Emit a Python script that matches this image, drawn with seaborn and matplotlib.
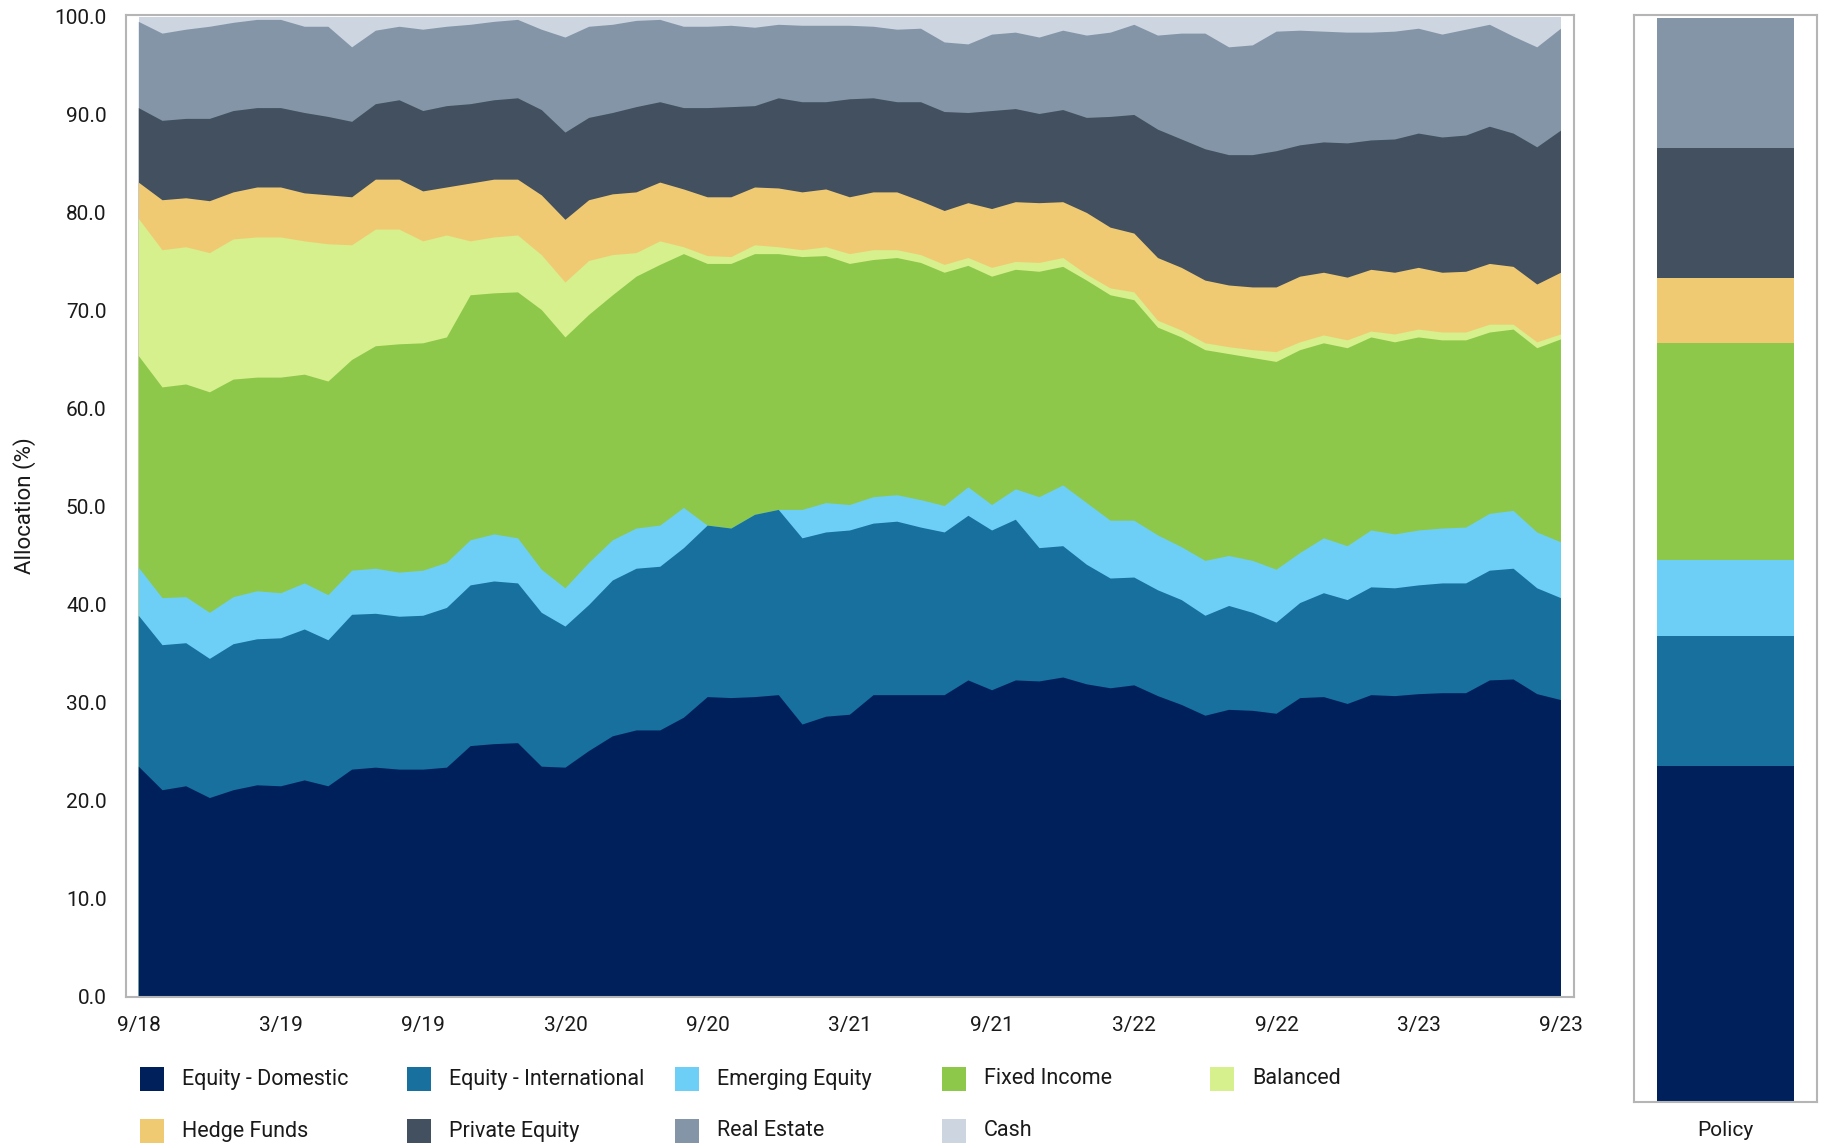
import matplotlib
matplotlib.use("Agg")
import matplotlib.pyplot as plt
from matplotlib.patches import Rectangle
import numpy as np
import pandas as pd
import seaborn as sns

# Monthly asset allocation, 9/18 through 9/23 (percent of portfolio)
equity_domestic = [23.5, 21.1, 21.5, 20.3, 21.1, 21.6, 21.5, 22.1, 21.5, 23.2, 23.4, 23.2, 23.2, 23.4, 25.6, 25.8,
                   25.9, 23.5, 23.4, 25.1, 26.6, 27.2, 27.2, 28.5, 30.6, 30.5, 30.6, 30.8, 27.8, 28.6, 28.8,
                   30.8, 30.8, 30.8, 30.8, 32.3, 31.3, 32.3, 32.2, 32.6, 31.9, 31.5, 31.8, 30.7, 29.8, 28.7,
                   29.3, 29.2, 28.9, 30.5, 30.6, 29.9, 30.8, 30.7, 30.9, 31.0, 31.0, 32.3, 32.4, 30.9, 30.3]
equity_international = [15.4, 14.8, 14.6, 14.2, 14.9, 14.9, 15.1, 15.4, 14.9, 15.8, 15.7, 15.6, 15.7, 16.3, 16.4, 16.6,
                        16.3, 15.7, 14.4, 14.9, 15.9, 16.5, 16.7, 17.3, 17.5, 17.3, 18.6, 18.9, 19.0, 18.8, 18.8,
                        17.5, 17.7, 17.1, 16.6, 16.8, 16.3, 16.4, 13.6, 13.4, 12.2, 11.2, 11.0, 10.8, 10.7, 10.2,
                        10.6, 10.0, 9.3, 9.7, 10.6, 10.6, 11.0, 11.0, 11.1, 11.2, 11.2, 11.2, 11.3, 10.8, 10.4]
emerging_equity = [4.9, 4.8, 4.7, 4.7, 4.8, 4.9, 4.6, 4.7, 4.6, 4.5, 4.6, 4.5, 4.6, 4.6, 4.6, 4.8,
                   4.6, 4.4, 3.9, 4.3, 4.1, 4.1, 4.2, 4.1, 0.0, 0.0, 0.0, 0.0, 2.9, 3.0, 2.6,
                   2.7, 2.7, 2.8, 2.7, 2.9, 2.6, 3.1, 5.2, 6.2, 6.3, 5.9, 5.8, 5.6, 5.4, 5.6,
                   5.1, 5.3, 5.4, 5.1, 5.6, 5.5, 5.8, 5.5, 5.6, 5.6, 5.7, 5.8, 5.9, 5.7, 5.7]
fixed_income = [21.6, 21.5, 21.7, 22.5, 22.2, 21.8, 22.0, 21.3, 21.8, 21.5, 22.7, 23.3, 23.2, 23.0, 25.0, 24.6,
                25.1, 26.5, 25.6, 25.3, 25.0, 25.7, 26.6, 25.9, 26.7, 27.0, 26.6, 26.1, 25.8, 25.2, 24.6,
                24.2, 24.2, 24.2, 23.8, 22.6, 23.3, 22.4, 23.0, 22.3, 22.7, 23.0, 22.5, 21.2, 21.4, 21.5,
                20.6, 20.7, 21.2, 20.7, 19.9, 20.2, 19.7, 19.6, 19.7, 19.2, 19.1, 18.5, 18.5, 18.8, 20.7]
balanced = [14.0, 14.0, 14.0, 14.2, 14.3, 14.3, 14.3, 13.6, 14.0, 11.7, 11.9, 11.7, 10.4, 10.4, 5.5, 5.7,
            5.8, 5.6, 5.6, 5.5, 4.1, 2.4, 2.4, 0.7, 0.8, 0.7, 0.9, 0.7, 0.7, 0.9, 1.0,
            1.0, 0.8, 0.8, 0.8, 0.8, 0.9, 0.8, 0.9, 0.9, 0.6, 0.7, 0.8, 0.7, 0.7, 0.7,
            0.7, 0.8, 1.0, 0.8, 0.8, 0.8, 0.6, 0.8, 0.8, 0.8, 0.8, 0.8, 0.5, 0.6, 0.5]
hedge_funds = [3.7, 5.1, 5.0, 5.3, 4.8, 5.1, 5.1, 4.9, 5.0, 4.9, 5.1, 5.1, 5.1, 4.9, 5.9, 5.9,
               5.7, 6.1, 6.4, 6.2, 6.2, 6.2, 6.0, 5.9, 6.0, 6.1, 5.9, 6.0, 5.9, 5.9, 5.8,
               5.9, 5.9, 5.5, 5.5, 5.6, 6.0, 6.1, 6.1, 5.7, 6.3, 6.2, 6.0, 6.4, 6.4, 6.4,
               6.3, 6.4, 6.6, 6.7, 6.4, 6.4, 6.3, 6.3, 6.3, 6.1, 6.2, 6.2, 5.9, 5.9, 6.3]
private_equity = [7.6, 8.1, 8.1, 8.4, 8.3, 8.1, 8.1, 8.2, 8.0, 7.7, 7.7, 8.1, 8.2, 8.3, 8.1, 8.1,
                  8.3, 8.7, 8.9, 8.4, 8.3, 8.7, 8.2, 8.3, 9.1, 9.2, 8.3, 9.2, 9.2, 8.9, 10.0,
                  9.6, 9.2, 10.1, 10.1, 9.2, 10.0, 9.5, 9.1, 9.4, 9.7, 11.3, 12.1, 13.1, 13.1, 13.4,
                  13.3, 13.5, 13.9, 13.4, 13.3, 13.7, 13.2, 13.6, 13.7, 13.8, 13.9, 14.0, 13.6, 14.0, 14.5]
real_estate = [8.8, 8.9, 9.1, 9.4, 9.0, 9.0, 9.0, 8.8, 9.2, 7.6, 7.5, 7.5, 8.3, 8.1, 8.1, 8.0,
               8.0, 8.2, 9.7, 9.3, 9.0, 8.8, 8.4, 8.3, 8.3, 8.3, 8.0, 7.5, 7.8, 7.8, 7.5,
               7.3, 7.4, 7.5, 7.1, 7.0, 7.8, 7.8, 7.8, 8.1, 8.4, 8.6, 9.2, 9.6, 10.8, 11.8,
               11.0, 11.2, 12.2, 11.7, 11.3, 11.3, 11.0, 11.0, 10.7, 10.5, 10.8, 10.4, 9.9, 10.2, 10.4]
cash = [0.5, 1.7, 1.3, 1.0, 0.6, 0.3, 0.3, 1.0, 1.0, 3.1, 1.4, 1.0, 1.3, 1.0, 0.8, 0.5,
        0.3, 1.3, 2.1, 1.0, 0.8, 0.4, 0.3, 1.0, 1.0, 0.9, 1.1, 0.8, 0.9, 0.9, 0.9,
        1.0, 1.3, 1.2, 2.6, 2.8, 1.8, 1.6, 2.1, 1.4, 1.9, 1.6, 0.8, 1.9, 1.7, 1.7,
        3.1, 2.9, 1.5, 1.4, 1.5, 1.6, 1.6, 1.5, 1.2, 1.8, 1.3, 0.8, 2.0, 3.1, 1.2]

# Policy (target) allocation
policy_values = [31.0, 12.0, 7.0, 20.0, 0.0, 6.0, 12.0, 12.0, 0.0]

asset_classes = ["Equity - Domestic", "Equity - International", "Emerging Equity", "Fixed Income",
                 "Balanced", "Hedge Funds", "Private Equity", "Real Estate", "Cash"]
colors = ["#00205B", "#17709D", "#6DCFF6", "#8DC84B", "#D6F08D",
          "#F0CA73", "#42505F", "#8495A8", "#CDD5E0"]

tick_months = [0, 6, 12, 18, 24, 30, 36, 42, 48, 54, 60]
tick_labels = ["9/18", "3/19", "9/19", "3/20", "9/20", "3/21", "9/21", "3/22", "9/22", "3/23", "9/23"]

series = [equity_domestic, equity_international, emerging_equity, fixed_income,
          balanced, hedge_funds, private_equity, real_estate, cash]
months = np.arange(len(equity_domestic))
alloc = pd.DataFrame(dict(zip(asset_classes, series)), index=months)
stacked = alloc.cumsum(axis=1)

sns.set_theme(style="white")
plt.rcParams["font.family"] = ["Roboto", "DejaVu Sans"]

W, H = 1824, 1145
fig = plt.figure(figsize=(W / 100, H / 100), dpi=100)

spine_color = "#b5b5b5"
tick_color = "#d4d4d4"
text_color = "#1a1a1a"

# Main stacked area chart: each band is filled from zero up to its cumulative top,
# drawn top-down so lower bands cover the rest without seams
ax = fig.add_axes([126 / W, 1 - 997 / H, (1574 - 126) / W, (997 - 15) / H])
for name, col in reversed(list(zip(asset_classes, colors))):
    ax.fill_between(stacked.index, 0, stacked[name].values, facecolor=col,
                    edgecolor="none", linewidth=0)
ax.set_xlim(-0.54, 60.55)
ax.set_ylim(0, 100.2)
ax.set_yticks(np.arange(0, 101, 10))
ax.set_yticklabels([f"{v:.1f}" for v in np.arange(0, 101, 10)])
ax.set_xticks(tick_months)
ax.set_xticklabels(tick_labels)
ax.tick_params(axis="both", which="major", length=8, width=1.5, color=tick_color,
               labelsize=15, labelcolor=text_color, pad=6)
for s in ax.spines.values():
    s.set_color(spine_color)
    s.set_linewidth(1.5)
ax.grid(False)
fig.text(25 / W, 1 - 506 / H, "Allocation (%)", rotation=90, ha="center", va="center",
         fontsize=16, color=text_color)

# Policy bar
pol = fig.add_axes([1634 / W, 1 - 1102 / H, (1817 - 1634) / W, (1102 - 15) / H])
bottom = 0.0
for name, val, col in zip(asset_classes, policy_values, colors):
    if val > 0:
        sns.barplot(x=["Policy"], y=[val], bottom=bottom, color=col, width=0.75,
                    saturation=1, ax=pol, linewidth=0)
    bottom += val
pol.set_xlim(-0.5, 0.5)
pol.set_ylim(0, 100.28)
pol.set_yticks([])
pol.set_xlabel("")
pol.set_ylabel("")
pol.tick_params(axis="x", length=8, width=1.5, color=tick_color, labelsize=15,
                labelcolor=text_color, pad=6)
for s in pol.spines.values():
    s.set_color(spine_color)
    s.set_linewidth(1.5)

# Legend: two rows of five
col_x = [140, 407, 675, 942, 1210]
row_y = [1079, 1131]
sq = 24
for k, (name, col) in enumerate(zip(asset_classes, colors)):
    r, c = divmod(k, 5)
    x0, yc = col_x[c], row_y[r]
    fig.patches.append(Rectangle((x0 / W, 1 - (yc + sq / 2) / H), sq / W, sq / H,
                                 transform=fig.transFigure, facecolor=col, edgecolor="none"))
    fig.text((x0 + 42) / W, 1 - yc / H, name, ha="left", va="center",
             fontsize=15.5, color=text_color)

fig.savefig("out.png", dpi=100, facecolor="white")
